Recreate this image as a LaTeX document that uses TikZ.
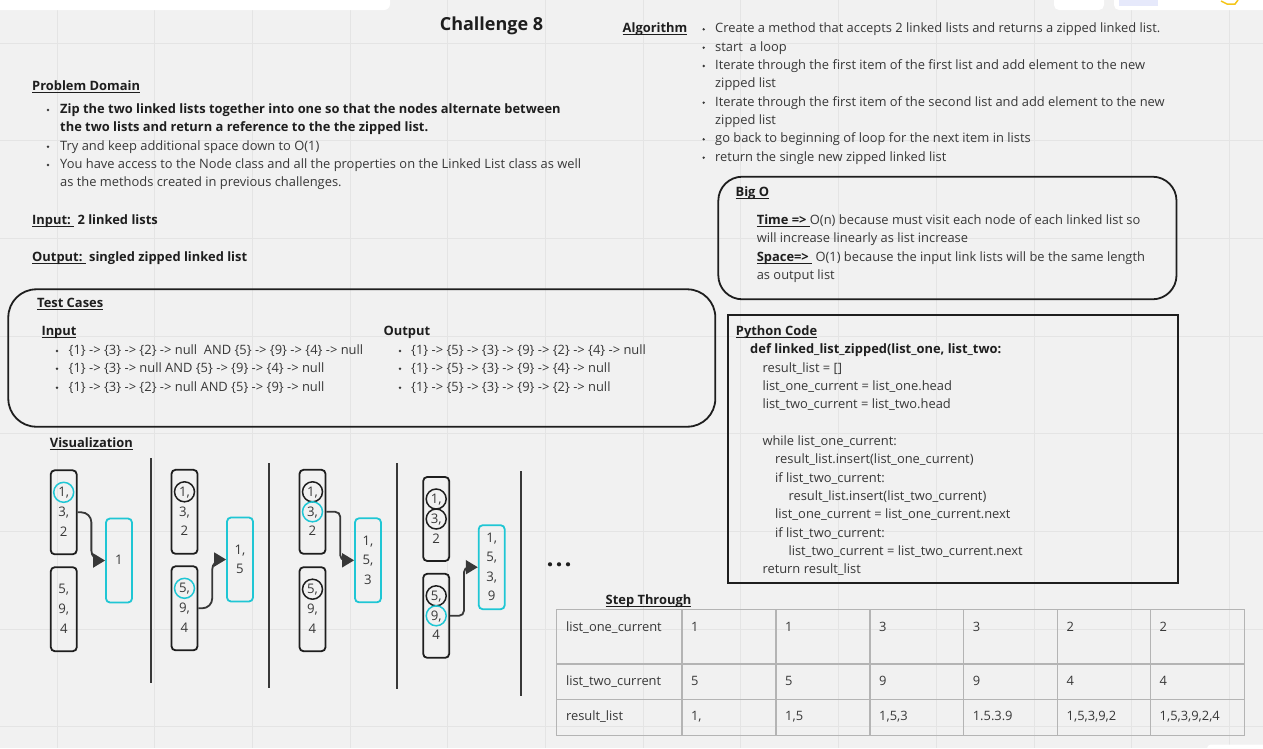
\documentclass[tikz,border=0pt]{standalone}
\usepackage{fontspec}
\setmainfont{Open Sans}
\usetikzlibrary{arrows.meta,calc}
\definecolor{ink}{HTML}{383838}
\definecolor{inkb}{HTML}{1E1E1E}
\definecolor{cy}{HTML}{1FC6D4}
\definecolor{bg}{HTML}{F1F1F1}
\definecolor{gridc}{HTML}{E4E4E4}
\definecolor{tbl}{HTML}{B4B4B4}
\definecolor{lav}{HTML}{E6E9FB}
\definecolor{ylw}{HTML}{F5C518}
\newcommand\ulin[1]{\setbox0=\hbox{#1}\rlap{\rule[-2.2pt]{\wd0}{0.9pt}}\box0}
\newcommand\bitem[5]{\node[bul] (#1b) at (#2,#4+1) {}; \node[txt] (#1) at (#3,#4) {#5};}
\newcommand\lstbox[7]{\node[#2] (#1) at (#3,#4) {}; \node[dig] (#1x) at (#3,#4-20) {#5}; \node[dig] (#1y) at (#3,#4) {#6}; \node[dig] (#1z) at (#3,#4+19.5) {#7};}
\tikzset{
 txt/.style={anchor=west, inner sep=0pt, text height=9pt, text depth=0pt, text=ink, font=\fontsize{12.9}{16}\selectfont},
 btxt/.style={txt, text=inkb, font=\fontsize{12.9}{16}\selectfont\bfseries},
 bul/.style={circle, fill=ink, inner sep=0pt, minimum size=2.6pt},
 lst/.style={draw=inkb, line width=1.8pt, rounded corners=4pt, minimum width=26pt, minimum height=84pt, inner sep=0pt},
 res/.style={lst, draw=cy},
 dig/.style={inner sep=0pt, text height=9pt, text depth=0pt, text=ink, font=\fontsize{13.2}{16}\selectfont},
 ring/.style={circle, draw=inkb, line width=1.5pt, minimum size=20pt, inner sep=0pt},
 cring/.style={ring, draw=cy},
 arr/.style={draw=ink, line width=1.8pt, -{Triangle[length=12pt,width=14pt]}},
 sepline/.style={draw=ink, line width=1.8pt},
 bigbox/.style={draw=inkb, line width=1.8pt},
}
\begin{document}
\begin{tikzpicture}[x=1pt,y=-1pt]
\useasboundingbox (0,0) rectangle (1263,748);
\fill[bg] (0,0) rectangle (1263,748);
\foreach \gx in {57,154.7,252.4,350.1,447.8,545.5,643.2,740.9,838.6,936.3,1034,1131.7,1229.4}
  \draw[gridc, line width=1pt] (\gx,0) -- (\gx,748);
\foreach \gy in {43,140.7,238.4,336.1,433.8,531.5,629.2,726.9}
  \draw[gridc, line width=1pt] (0,\gy) -- (1263,\gy);
% screen chrome
\fill[white, rounded corners=6pt] (-20,-20) rectangle (390,10);
\fill[white, rounded corners=5pt] (1054,-20) rectangle (1104,10);
\fill[white, rounded corners=5pt] (1114,-20) rectangle (1290,10);
\fill[lav] (1119,-5) rectangle (1158,6);
\draw[ylw, line width=1.5pt] (1221,1) -- (1227,4) -- (1235,4) -- (1238,0);
\fill[white, rounded corners=4pt] (1207,744.5) rectangle (1290,760);

% title
\node[btxt, anchor=center, text height=13pt, font=\fontsize{18}{22}\selectfont\bfseries] (title) at (491.5,24) {Challenge 8};

% problem domain
\node[btxt] (pd0) at (32,86) {\ulin{Problem Domain}};
\bitem{pd1}{48}{60}{109}{\color{inkb}\bfseries Zip the two linked lists together into one so that the nodes alternate between}
\node[btxt] (pd2) at (60,126.7) {the two lists and return a reference to the the zipped list.};
\bitem{pd3}{48}{60}{145.7}{Try and keep additional space down to O(1)}
\bitem{pd4}{48}{60}{164}{You have access to the Node class and all the properties on the Linked List class as well}
\node[txt] (pd5) at (60,182.3) {as the methods created in previous challenges.};
\node[btxt] (inp) at (32,220) {\ulin{Input:\ }\ 2 linked lists};
\node[btxt] (outp) at (32,256.7) {\ulin{Output:\ }\ singled zipped linked list};

% test cases
\node[bigbox, rounded corners=28pt, minimum width=707pt, minimum height=137.4pt, inner sep=0pt] (tcbox) at (361.8,358) {};
\node[btxt] (tc0) at (37,303.3) {\ulin{Test Cases}};
\node[btxt] (tci) at (41.3,330.7) {\ulin{Input}};
\node[btxt] (tco) at (383.4,330.7) {Output};
\bitem{tci1}{57}{68.5}{350}{\{1\} -> \{3\} -> \{2\} -> null\ \ AND \{5\} -> \{9\} -> \{4\} -> null}
\bitem{tci2}{57}{68.5}{367.7}{\{1\} -> \{3\} -> null AND \{5\} -> \{9\} -> \{4\} -> null}
\bitem{tci3}{57}{68.5}{386.7}{\{1\} -> \{3\} -> \{2\} -> null AND \{5\} -> \{9\} -> null}
\bitem{tco1}{400}{411}{350}{\{1\} -> \{5\} -> \{3\} -> \{9\} -> \{2\} -> \{4\} -> null}
\bitem{tco2}{400}{411}{367.7}{\{1\} -> \{5\} -> \{3\} -> \{9\} -> \{4\} -> null}
\bitem{tco3}{400}{411}{386.7}{\{1\} -> \{5\} -> \{3\} -> \{9\} -> \{2\} -> null}

% visualization
\node[btxt] (viz) at (49.7,443.3) {\ulin{Visualization}};
% step 1
\lstbox{sa}{lst}{63.7}{512.3}{1,}{3,}{2}
\lstbox{sb}{lst}{63.8}{609.2}{5,}{9,}{4}
\node[res] (sr) at (119,560.5) {};
\node[dig] (srx) at (119,559.5) {1};
\node[cring] (sc1) at (sax.center) {};
\draw[arr, rounded corners=10pt] (sa.east) -| ($(sa.east)!.5!(sr.west)$) |- (sr.west);
\draw[sepline] (150.7,458) -- (150.7,683);
% step 2
\lstbox{ta}{lst}{184.5}{511.8}{1,}{3,}{2}
\lstbox{tb}{lst}{184.5}{608.3}{5,}{9,}{4}
\node[res] (tr) at (240,559.5) {};
\node[dig] (trx) at (240,550) {1,};
\node[dig] (try) at (240,568.5) {5};
\node[ring] (tc1) at (tax.center) {};
\node[cring] (tc2) at (tbx.center) {};
\draw[arr, rounded corners=10pt] (tb.east) -| ($(tb.east)!.5!(tr.west)$) |- (tr.west);
\draw[sepline] (269,463) -- (269,688);
% step 3
\lstbox{ua}{lst}{312.5}{511.8}{1,}{3,}{2}
\lstbox{ub}{lst}{312.5}{609.2}{5,}{9,}{4}
\node[res] (ur) at (368,560.3) {};
\node[dig] (urx) at (368,540.5) {1,};
\node[dig] (ury) at (368,560) {5,};
\node[dig] (urz) at (368,579.5) {3};
\node[ring] (uc1) at (uax.center) {};
\node[cring] (uc2) at (uay.center) {};
\node[ring] (uc3) at (ubx.center) {};
\draw[arr, rounded corners=5pt] (ua.east) -| ($(ua.east)!.5!(ur.west)$) |- (ur.west);
\draw[sepline] (397.3,463) -- (397.3,689);
% step 4
\lstbox{va}{lst}{436.2}{519}{1,}{3,}{2}
\lstbox{vb}{lst}{436.2}{615.8}{5,}{9,}{4}
\node[res] (vr) at (491.7,567.2) {};
\node[dig] (vrw) at (491.7,537.5) {1,};
\node[dig] (vrx) at (491.7,557) {5,};
\node[dig] (vry) at (491.7,576.5) {3,};
\node[dig] (vrz) at (491.7,596) {9};
\node[ring] (vc1) at (vax.center) {};
\node[ring] (vc2) at (vay.center) {};
\node[ring] (vc3) at (vbx.center) {};
\node[cring] (vc4) at (vby.center) {};
\draw[arr, rounded corners=5pt] (vb.east) -| ($(vb.east)!.5!(vr.west)$) |- (vr.west);
\draw[sepline] (520.7,471) -- (520.7,696);
\foreach \dx in {550,559,568} \fill[inkb] (\dx,564.3) circle (2.1pt);

% algorithm
\node[btxt] (al0) at (622.5,28.3) {\ulin{Algorithm}};
\bitem{al1}{703.7}{715}{28.3}{Create a method that accepts 2 linked lists and returns a zipped linked list.}
\bitem{al2}{703.7}{715}{46.7}{start\ \ a loop}
\bitem{al3}{703.7}{715}{65}{Iterate through the first item of the first list and add element to the new}
\node[txt] (al4) at (715,83.3) {zipped list};
\bitem{al5}{703.7}{715}{101.7}{Iterate through the first item of the second list and add element to the new}
\node[txt] (al6) at (715,120) {zipped list};
\bitem{al7}{703.7}{715}{138.3}{go back to beginning of loop for the next item in lists}
\bitem{al8}{703.7}{715}{156.7}{return the single new zipped linked list}

% big O
\node[bigbox, rounded corners=24pt, minimum width=458.2pt, minimum height=122.6pt, inner sep=0pt] (bobox) at (947.4,238) {};
\node[btxt] (bo0) at (735.4,191.7) {\ulin{Big O}};
\node[txt] (bo1) at (756.6,220) {\textcolor{inkb}{\ulin{\bfseries Time =>\ }}O(n) because must visit each node of each linked list so};
\node[txt] (bo2) at (756.6,238.3) {will increase linearly as list increase};
\node[txt] (bo3) at (756.6,256.7) {\textcolor{inkb}{\ulin{\bfseries Space=>\ }}\ O(1) because the input link lists will be the same length};
\node[txt] (bo4) at (756.6,275) {as output list};

% python code
\node[bigbox, minimum width=450pt, minimum height=268.3pt, inner sep=0pt] (pybox) at (953.3,449.2) {};
\node[btxt] (py0) at (735.7,330.7) {\ulin{Python Code}};
\node[btxt] (py1) at (750,349.3) {def linked\_list\_zipped(list\_one, list\_two:};
\node[txt] (py2) at (762.3,367.7) {result\_list = []};
\node[txt] (py3) at (762.3,386) {list\_one\_current = list\_one.head};
\node[txt] (py4) at (762.3,404.3) {list\_two\_current = list\_two.head};
\node[txt] (py5) at (762.3,440.7) {while list\_one\_current:};
\node[txt] (py6) at (775,459.3) {result\_list.insert(list\_one\_current)};
\node[txt] (py7) at (775,477.7) {if list\_two\_current:};
\node[txt] (py8) at (788.3,495.7) {result\_list.insert(list\_two\_current)};
\node[txt] (py9) at (775,514.3) {list\_one\_current = list\_one\_current.next};
\node[txt] (py10) at (775,532.7) {if list\_two\_current:};
\node[txt] (py11) at (788.3,551) {list\_two\_current = list\_two\_current.next};
\node[txt] (py12) at (762.3,569) {return result\_list};

% step through
\node[btxt] (st0) at (605.5,600) {\ulin{Step Through}};
\draw[tbl, line width=1.3pt] (556.8,609.3) rectangle (1244.8,735.7);
\foreach \cx in {681.9,776,870,963.6,1057.5,1150.5} \draw[tbl, line width=1.3pt] (\cx,609.3) -- (\cx,735.7);
\foreach \ry in {664,699.3} \draw[tbl, line width=1.3pt] (556.8,\ry) -- (1244.8,\ry);
\node[txt] (r1c0) at (565.8,626.7) {list\_one\_current};
\node[txt] (r1c1) at (690.9,626.7) {1};
\node[txt] (r1c2) at (785,626.7) {1};
\node[txt] (r1c3) at (879,626.7) {3};
\node[txt] (r1c4) at (972.6,626.7) {3};
\node[txt] (r1c5) at (1066.5,626.7) {2};
\node[txt] (r1c6) at (1159.5,626.7) {2};
\node[txt] (r2c0) at (565.8,681) {list\_two\_current};
\node[txt] (r2c1) at (690.9,681) {5};
\node[txt] (r2c2) at (785,681) {5};
\node[txt] (r2c3) at (879,681) {9};
\node[txt] (r2c4) at (972.6,681) {9};
\node[txt] (r2c5) at (1066.5,681) {4};
\node[txt] (r2c6) at (1159.5,681) {4};
\node[txt] (r3c0) at (565.8,716) {result\_list};
\node[txt] (r3c1) at (690.9,716) {1,};
\node[txt] (r3c2) at (785,716) {1,5};
\node[txt] (r3c3) at (879,716) {1,5,3};
\node[txt] (r3c4) at (972.6,716) {1.5.3.9};
\node[txt] (r3c5) at (1066.5,716) {1,5,3,9,2};
\node[txt] (r3c6) at (1159.5,716) {1,5,3,9,2,4};
\end{tikzpicture}
\end{document}
